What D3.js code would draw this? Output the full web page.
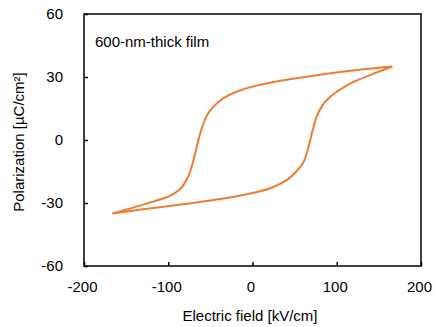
<!DOCTYPE html>
<html><head><meta charset="utf-8">
<script src="https://cdn.jsdelivr.net/npm/d3@7"></script>
<style>body{margin:0;background:#fff}svg{display:block}text{font-family:"Liberation Sans",Arial,sans-serif;fill:#000}</style>
</head><body><svg id="c" width="435" height="327"></svg>
<script>
const xTicks=[-200,-100,0,100,200];
const yTicks=[-60,-30,0,30,60];
// descending branch (from +Emax to -Emax)
const upperE=[166,124,84,44,5,-15,-35,-47,-55,-61,-66,-71,-77,-85,-98,-120,-145,-166];
const upperP=[35,33.3,31.3,28.9,25.9,23.6,19.8,15.5,11,4.5,-3,-11,-18,-23,-26.6,-29.6,-32.6,-35];
// ascending branch (from -Emax to +Emax)
const lowerE=[-166,-130,-90,-50,-11,21,41,52,60,66,71,76,83,92,104,118,140,166];
const lowerP=[-35,-33,-31,-28.8,-26.2,-23,-19,-15,-11,-4,4,11,16.5,20.5,24,27.3,31,35];
const annotation="600-nm-thick film";
const xTitle="Electric field [kV/cm]";
const yTitle="Polarization [µC/cm²]";

const svg=d3.select("#c");
const L=84,R=421,T=14,B=266;
const x=d3.scaleLinear().domain([-200,200]).range([L,R]);
const y=d3.scaleLinear().domain([-60,60]).range([B,T]);

const line=d3.line().x(d=>x(d[0])).y(d=>y(d[1])).curve(d3.curveCatmullRom.alpha(0.5));
const up=upperE.map((e,i)=>[e,upperP[i]]);
const lo=lowerE.map((e,i)=>[e,lowerP[i]]);
svg.append("path").attr("d",line(up)).attr("fill","none").attr("stroke","#ED7D31").attr("stroke-width",2);
svg.append("path").attr("d",line(lo)).attr("fill","none").attr("stroke","#ED7D31").attr("stroke-width",2);

// frame
svg.append("rect").attr("x",L).attr("y",T).attr("width",R-L).attr("height",B-T).attr("fill","none").attr("stroke","#000").attr("stroke-width",1.5);

const fmt=d=>String(d);
const xa=svg.append("g").attr("transform",`translate(0,${B})`)
 .call(d3.axisBottom(x).tickValues(xTicks).tickSize(-4).tickPadding(15).tickFormat(fmt));
xa.select(".domain").remove();
xa.selectAll("line").attr("stroke","#000").attr("stroke-width",1.5);
xa.selectAll("text").attr("font-size",15).attr("font-family","Liberation Sans, Arial, sans-serif").attr("fill","#000").attr("dx",-2);

const ya=svg.append("g").attr("transform",`translate(${L},0)`)
 .call(d3.axisLeft(y).tickValues(yTicks).tickSize(-4).tickPadding(21).tickFormat(fmt));
ya.select(".domain").remove();
ya.selectAll("line").attr("stroke","#000").attr("stroke-width",1.5);
ya.selectAll("text").attr("font-size",15).attr("font-family","Liberation Sans, Arial, sans-serif").attr("fill","#000");

svg.append("text").attr("x",95).attr("y",46.5).attr("font-size",15).text(annotation);
svg.append("text").attr("x",250).attr("y",321).attr("text-anchor","middle").attr("font-size",15).text(xTitle);
svg.append("text").attr("transform","translate(24,142) rotate(-90)").attr("text-anchor","middle").attr("font-size",15).text(yTitle);
</script></body></html>
